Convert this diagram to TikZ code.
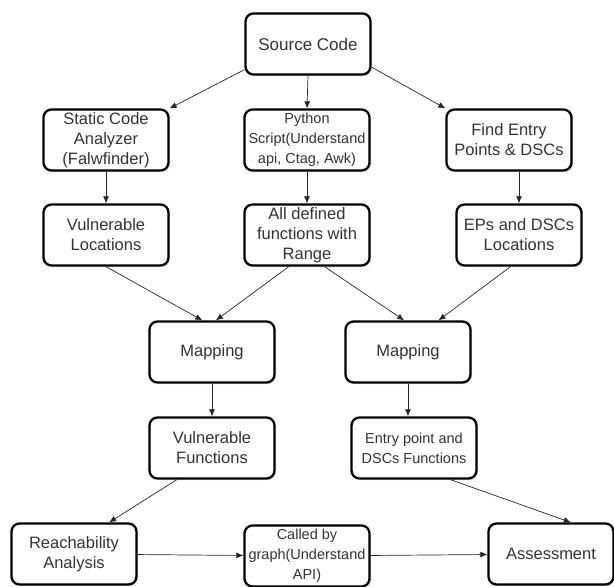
\documentclass[tikz,border=0pt]{standalone}
\usepackage{fontspec}
\setmainfont{Liberation Sans}
\usepackage{xcolor}
\usepackage{tikz}
\usetikzlibrary{arrows.meta,shadows}

\begin{document}
\begin{tikzpicture}[x=1pt,y=-1pt,
	box/.style={draw=black, rounded corners=8pt, line width=2.3pt, fill=white,
		minimum width=125pt, minimum height=61pt, align=center, inner sep=1pt,
		text=black!80, font=\fontsize{16.5}{20}\selectfont,
		drop shadow={opacity=0.25, shadow xshift=1.5pt, shadow yshift=-1.5pt}},
	smallbox/.style={box, font=\fontsize{14.5}{20}\selectfont},
	arr/.style={-{Latex[length=7pt,width=6pt]}, line width=0.7pt, black!85}]
			\useasboundingbox (0,0) rectangle (614,587);
			% Hàng 1, 2
			\node[box] (src) at (308,44) {\fontsize{17}{20}\selectfont Source Code};
			\node[box] (static) at (106,140) {Static Code\\Analyzer\\(Falwfinder)};
			\node[smallbox] (python) at (307,140) {Python\\Script(Understand\\api, Ctag, Awk)};
			\node[box] (find) at (509,140) {Find Entry\\Points \& DSCs};
			% Hàng 3
			\node[box] (vulnloc) at (106,235) {Vulnerable\\Locations};
			\node[box] (alldef) at (307,235) {All defined\\functions with\\Range};
			\node[box] (eps) at (519,235) {EPs and DSCs\\Locations};
			% Mapping
			\node[box] (mapl) at (212,352) {Mapping};
			\node[box] (mapr) at (408,352) {Mapping};
			\node[box] (vulnfunc) at (212,448) {Vulnerable\\Functions};
			\node[smallbox] (entry) at (414,448) {Entry point and\\DSCs Functions};
			% Hàng cuối
			\node[box] (reach) at (74,554) {Reachability\\Analysis};
			\node[smallbox] (called) at (307,556) {Called by\\graph(Understand\\API)};
			\node[box] (assess) at (551,554) {Assessment};
			
			% Mũi tên
			\draw[arr] (src.202) -- (static.north east);
			\draw[arr] (src.south) -- (python.north);
			\draw[arr] (src.-20) -- (find.north west);
			\draw[arr] (static) -- (vulnloc);
			\draw[arr] (python) -- (alldef);
			\draw[arr] (eps.north |- find.south) -- (eps.north);
			\draw[arr] (vulnloc.south) -- (mapl.107);
			\draw[arr] (alldef.-120) -- (mapl.83);
			\draw[arr] (alldef.-61) -- (mapr.97);
			\draw[arr] (eps.-105) -- (mapr.46);
			\draw[arr] (mapl) -- (vulnfunc);
			\draw[arr] (mapr.south) -- (mapr.south |- entry.north);
			\draw[arr] (vulnfunc.-138) -- (reach.42);
			\draw[arr] (entry.-41) -- (assess.58);
			\draw[arr] (reach) -- (called);
			\draw[arr] (called) -- (assess);
\end{tikzpicture}
\end{document}
